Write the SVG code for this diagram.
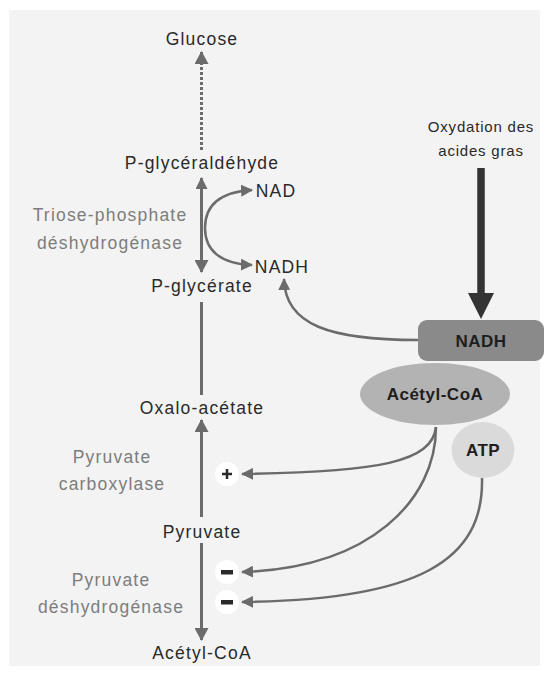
<svg xmlns="http://www.w3.org/2000/svg" width="548" height="675" viewBox="0 0 548 675">
<defs>
<style>
.t{font-family:"Liberation Sans",Arial,sans-serif;font-size:17.5px;fill:#2a2a2a;letter-spacing:1.2px;text-anchor:middle}
.e{font-family:"Liberation Sans",Arial,sans-serif;font-size:17.5px;fill:#7d7d7d;letter-spacing:1.2px;text-anchor:middle}
.b{font-family:"Liberation Sans",Arial,sans-serif;font-size:17px;font-weight:bold;fill:#1e1e1e;letter-spacing:0.5px;text-anchor:middle}
.c{fill:none;stroke:#6b6b6b;stroke-width:2.5}
.m{fill:none;stroke:#6b6b6b;stroke-width:3}
</style>
<marker id="ah" viewBox="0 0 12 12" refX="11" refY="6" markerWidth="12" markerHeight="12" markerUnits="userSpaceOnUse" orient="auto">
<path d="M0,0 L12,6 L0,12 z" fill="#6b6b6b"/>
</marker>
<marker id="ahm" viewBox="0 0 13 14" refX="12" refY="7" markerWidth="13" markerHeight="14" markerUnits="userSpaceOnUse" orient="auto">
<path d="M0,0 L13,7 L0,14 z" fill="#6b6b6b"/>
</marker>
<marker id="ahs" viewBox="0 0 12 12" refX="11" refY="6" markerWidth="12" markerHeight="12" markerUnits="userSpaceOnUse" orient="auto-start-reverse">
<path d="M0,0 L12,6 L0,12 z" fill="#6b6b6b"/>
</marker>
</defs>
<rect x="0" y="0" width="548" height="675" fill="#ffffff"/>
<rect x="9" y="10" width="531" height="656" fill="#f3f3f3"/>

<g id="connectors">
<path class="m" d="M201.5,150 L201.5,52" stroke-dasharray="3,2" marker-end="url(#ahm)"/>
<path class="m" d="M201.5,178 L201.5,272" marker-start="url(#ahs)" marker-end="url(#ahm)"/>
<path class="c" d="M205,228 C205,205 220,192 252,190" marker-end="url(#ah)"/>
<path class="c" d="M205,228 C205,250 220,264 252,265" marker-end="url(#ah)"/>
<path class="m" d="M201.5,302 L201.5,395"/>
<path class="m" d="M201.5,517 L201.5,420" marker-end="url(#ahm)"/>
<path class="m" d="M201.5,543 L201.5,640" marker-end="url(#ahm)"/>
<path class="c" d="M418,340 C330,340 285,325 284,279" marker-end="url(#ah)"/>
<path d="M481,168 L481,295" stroke="#333333" stroke-width="7.5" fill="none"/>
<path d="M468,293 L494,293 L481,319 z" fill="#333333"/>
<path class="c" d="M436,427 C432,462 380,472 242,474" marker-end="url(#ah)"/>
<path class="c" d="M436,427 C436,500 370,568 242,572" marker-end="url(#ah)"/>
<path class="c" d="M482,478 C484,560 420,600 242,602" marker-end="url(#ah)"/>
</g>

<g id="glucose"><text class="t" x="202" y="45">Glucose</text></g>
<g id="p-glyceraldehyde"><text class="t" x="202" y="169">P-glycéraldéhyde</text></g>
<g id="nad"><text class="t" x="276" y="197">NAD</text></g>
<g id="nadh-label"><text class="t" x="282" y="273">NADH</text></g>
<g id="p-glycerate"><text class="t" x="202" y="292">P-glycérate</text></g>
<g id="triose"><text class="e" x="110" y="221">Triose-phosphate</text><text class="e" x="110" y="249">déshydrogénase</text></g>
<g id="oxalo"><text class="t" x="202" y="414">Oxalo-acétate</text></g>
<g id="pyruvate-carboxylase"><text class="e" x="112" y="463">Pyruvate</text><text class="e" x="112" y="490">carboxylase</text></g>
<g id="pyruvate"><text class="t" x="202" y="538">Pyruvate</text></g>
<g id="pyruvate-dh"><text class="e" x="111" y="586">Pyruvate</text><text class="e" x="111" y="613">déshydrogénase</text></g>
<g id="acetyl-coa-bottom"><text class="t" x="202" y="659">Acétyl-CoA</text></g>
<g id="oxydation"><text class="t" x="481" y="132" style="font-size:15px;letter-spacing:0.8px">Oxydation des</text><text class="t" x="481" y="156" style="font-size:15px;letter-spacing:0.8px">acides gras</text></g>
<g id="nadh-box"><rect x="418" y="320" width="126" height="41" rx="9" fill="#8a8a8a"/><text class="b" x="481" y="347">NADH</text></g>
<g id="acetyl-coa"><ellipse cx="435" cy="394" rx="75" ry="31" fill="#b3b3b3"/><text class="b" x="435" y="400">Acétyl-CoA</text></g>
<g id="atp"><ellipse cx="483" cy="450" rx="31.5" ry="28" fill="#dadada"/><text class="b" x="483" y="456">ATP</text></g>
<g id="plus"><circle cx="227" cy="474" r="12" fill="#ffffff"/><path d="M222,474 L232,474 M227,469 L227,479" stroke="#2a2a2a" stroke-width="2.5"/></g>
<g id="minus1"><circle cx="227" cy="572" r="12" fill="#ffffff"/><rect x="221" y="570" width="12" height="4.5" fill="#2a2a2a"/></g>
<g id="minus2"><circle cx="227" cy="602" r="12" fill="#ffffff"/><rect x="221" y="600" width="12" height="4.5" fill="#2a2a2a"/></g>
</svg>
